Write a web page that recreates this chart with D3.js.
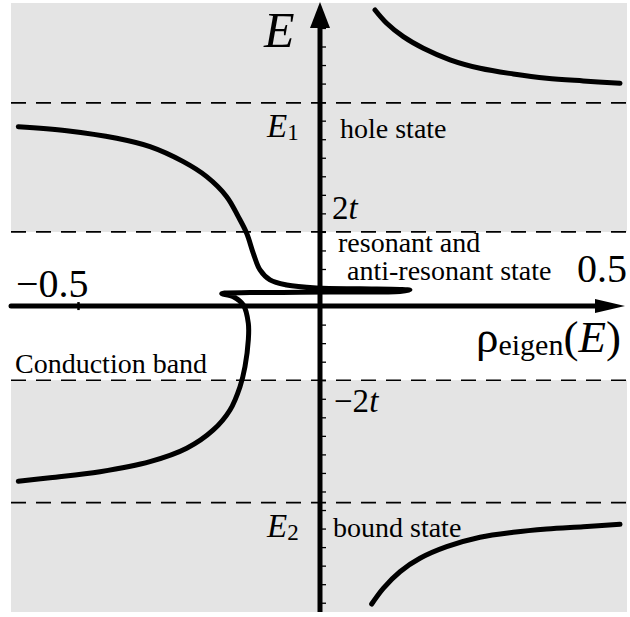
<!DOCTYPE html>
<html>
<head>
<meta charset="utf-8">
<script src="https://cdn.jsdelivr.net/npm/d3@7"></script>
<style>
  html, body { margin: 0; padding: 0; background: #fff; }
  svg { display: block; }
  text { font-family: "Liberation Serif", "Times New Roman", serif; fill: #000; }
</style>
</head>
<body>
<svg id="chart" width="630" height="617"></svg>
<script>
// Eigen-density branches, each point is [rho, E]
const holeBranch = [
  [0.1139, 7.985], [0.1381, 7.627], [0.1725, 7.265], [0.2139, 6.953],
  [0.2692, 6.642], [0.3313, 6.413], [0.4002, 6.260], [0.4694, 6.144],
  [0.5451, 6.071], [0.6211, 6.009]
];

const resonantBranch = [
  [-0.6246, 4.838], [-0.5244, 4.730], [-0.4209, 4.525], [-0.352, 4.299],
  [-0.283, 3.894], [-0.2346, 3.490], [-0.1932, 2.950], [-0.1692, 2.411],
  [-0.1518, 1.963], [-0.1381, 1.424], [-0.1242, 0.974], [-0.1035, 0.704],
  [-0.0689, 0.569], [-0.0068, 0.490], [0.0828, 0.466], [0.1656, 0.450],
  [0.1863, 0.432], [0.1656, 0.395], [0.0621, 0.380], [-0.0414, 0.372],
  [-0.1449, 0.363], [-0.1967, 0.352], [-0.2035, 0.335], [-0.1795, 0.2535],
  [-0.1588, 0.030], [-0.1484, -0.464], [-0.1484, -0.914], [-0.1553, -1.634],
  [-0.1656, -2.174], [-0.1863, -2.802], [-0.2209, -3.341], [-0.276, -3.835],
  [-0.352, -4.196], [-0.4555, -4.466], [-0.559, -4.628], [-0.6246, -4.725]
];

const boundBranch = [
  [0.107, -8.034], [0.131, -7.611], [0.1656, -7.163], [0.207, -6.802],
  [0.2623, -6.489], [0.3313, -6.235], [0.4002, -6.100], [0.4694, -6.011],
  [0.5451, -5.949], [0.6211, -5.884]
];

// Reference energies: E1, band edges 2t and -2t, E2
const levelE = [5.48, 2, -2, -5.3];
const bandEdges = [-2, 2];
const rhoTickValues = [-0.5];
const eTickValues = d3.range(-8, 7.51, 0.5).filter(v => v !== 0);

const svg = d3.select("#chart");

const x = d3.scaleLinear().domain([-0.5, 0.5]).range([78.5, 561.5]);
const y = d3.scaleLinear().domain([-8.25, 8.2]).range([612, 2]);

const left = 11, right = 627;
const grey = "#e4e4e4";

// Shaded regions outside the conduction band
svg.append("rect")
  .attr("x", left).attr("y", 3)
  .attr("width", right - left).attr("height", y(bandEdges[1]) - 3)
  .attr("fill", grey);
svg.append("rect")
  .attr("x", left).attr("y", y(bandEdges[0]))
  .attr("width", right - left).attr("height", 612 - y(bandEdges[0]))
  .attr("fill", grey);

// Dashed reference lines
svg.selectAll("line.level").data(levelE).join("line")
  .attr("class", "level")
  .attr("x1", left).attr("x2", right)
  .attr("y1", d => y(d)).attr("y2", d => y(d))
  .attr("stroke", "#000").attr("stroke-width", 1.6)
  .attr("stroke-dasharray", "15,10");

// Axes
const x0 = x(0), y0 = y(0);
svg.append("line")
  .attr("x1", 11).attr("x2", 600).attr("y1", y0).attr("y2", y0)
  .attr("stroke", "#000").attr("stroke-width", 5).attr("stroke-linecap", "round");
svg.append("path")
  .attr("d", `M625,${y0} L595,${y0 - 7} L595,${y0 + 7} Z`).attr("fill", "#000");

svg.append("line")
  .attr("x1", x0).attr("x2", x0).attr("y1", 612).attr("y2", 24)
  .attr("stroke", "#000").attr("stroke-width", 5);
svg.append("path")
  .attr("d", `M${x0},2 L${x0 - 10},28 L${x0 + 10},28 Z`).attr("fill", "#000");

// Energy ticks on the vertical axis
const yAxis = d3.axisRight(y).tickValues(eTickValues).tickSize(4).tickFormat("");
const yg = svg.append("g").attr("transform", `translate(${x0 + 2},0)`).call(yAxis);
yg.select(".domain").remove();
yg.selectAll(".tick line").attr("stroke", "#000").attr("stroke-width", 1.3);

// Density tick on the horizontal axis
svg.selectAll("line.rtick").data(rhoTickValues).join("line")
  .attr("class", "rtick")
  .attr("x1", d => x(d)).attr("x2", d => x(d))
  .attr("y1", y0 - 4).attr("y2", y0 + 4)
  .attr("stroke", "#000").attr("stroke-width", 2.5);

// Branches
const line = d3.line()
  .x(d => x(d[0])).y(d => y(d[1]))
  .curve(d3.curveCatmullRom.alpha(0.5));

[holeBranch, resonantBranch, boundBranch].forEach(b => {
  svg.append("path")
    .attr("d", line(b))
    .attr("fill", "none").attr("stroke", "#000")
    .attr("stroke-width", 5).attr("stroke-linecap", "round")
    .attr("stroke-linejoin", "round");
});

// Labels
function label(tx, ty, size) {
  return svg.append("text").attr("x", tx).attr("y", ty).attr("font-size", size);
}

label(264, 47, 50).attr("font-style", "italic").text("E");

const e1 = label(267, 137, 33);
e1.append("tspan").attr("font-style", "italic").text("E");
e1.append("tspan").attr("font-size", 23).attr("dy", 3).text("1");

const e2 = label(267, 537, 33);
e2.append("tspan").attr("font-style", "italic").text("E");
e2.append("tspan").attr("font-size", 23).attr("dy", 3).text("2");

const t2 = label(332, 219, 33);
t2.append("tspan").text("2");
t2.append("tspan").attr("font-style", "italic").text("t");

const tm2 = label(334, 412, 33);
tm2.append("tspan").text("\u22122");
tm2.append("tspan").attr("font-style", "italic").text("t");

label(340, 138, 28).text("hole state");
label(338, 252, 28).text("resonant and");
label(347, 280, 28).text("anti-resonant state");
label(15, 373, 28).text("Conduction band");
label(333, 537, 28).text("bound state");

label(577, 282, 40).text("0.5");
label(16, 297, 40).text("\u22120.5");

const rl = label(476, 352, 45);
rl.append("tspan").text("\u03C1");
rl.append("tspan").attr("font-size", 30).attr("dy", 3).text("eigen");
rl.append("tspan").attr("dy", -3).text("(");
rl.append("tspan").attr("font-style", "italic").text("E");
rl.append("tspan").text(")");
</script>
</body>
</html>
